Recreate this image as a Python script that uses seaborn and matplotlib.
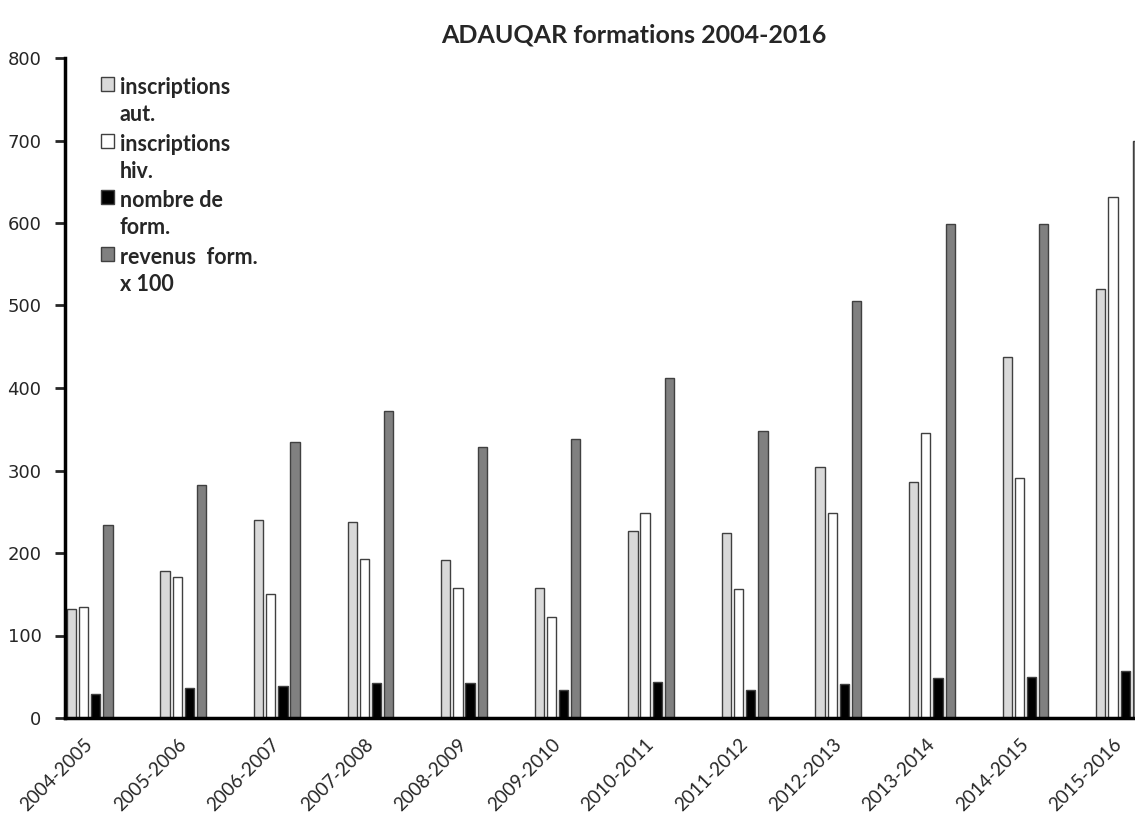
import numpy as np
import pandas as pd
import matplotlib
matplotlib.use("Agg")
import matplotlib.pyplot as plt
import seaborn as sns

# data
saisons = ["2004-2005", "2005-2006", "2006-2007", "2007-2008", "2008-2009", "2009-2010",
           "2010-2011", "2011-2012", "2012-2013", "2013-2014", "2014-2015", "2015-2016"]
inscr_aut = [132, 178, 240, 237, 191, 157, 227, 224, 304, 286, 437, 520]
inscr_hiv = [134, 171, 150, 193, 157, 122, 248, 156, 249, 345, 291, 631]
nb_form = [29, 36, 39, 42, 42, 34, 44, 34, 41, 48, 50, 57]
revenus = [234, 282, 335, 372, 329, 338, 412, 348, 506, 599, 599, 699]

series = ["inscriptions\naut.", "inscriptions\nhiv.", "nombre de\nform.", "revenus  form.\nx 100"]
couleurs = ["#d9d9d9", "#ffffff", "#000000", "#808080"]

df = pd.DataFrame({"saison": saisons * 4,
                   "serie": np.repeat(series, len(saisons)),
                   "valeur": inscr_aut + inscr_hiv + nb_form + revenus})

sns.set_style("white")
plt.rcParams["font.family"] = ["Lato", "DejaVu Sans"]

fig = plt.figure(figsize=(11.35, 8.19), dpi=100)
ax = fig.add_axes([65 / 1135, 1 - 718 / 819, 1 - 65 / 1135, (718 - 58) / 819])

sns.barplot(data=df, x="saison", y="valeur", hue="serie", hue_order=series,
            palette=couleurs, width=0.52, gap=0.24, edgecolor="#404040",
            linewidth=1, ax=ax)

ax.set_ylim(0, 800)
ax.set_yticks(range(0, 801, 100))
ax.set_xlim(-0.264, 11.17)
ax.set_xlabel("")
ax.set_ylabel("")

for s in ["top", "right"]:
    ax.spines[s].set_visible(False)
for s in ["left", "bottom"]:
    ax.spines[s].set_linewidth(2.5)
    ax.spines[s].set_color("black")

ax.tick_params(axis="y", direction="out", length=7, width=2, pad=10, left=True)
ax.tick_params(axis="x", length=0, pad=17)
for t in ax.get_yticklabels():
    t.set_fontfamily("DejaVu Sans")
    t.set_fontsize(13)
plt.setp(ax.get_xticklabels(), rotation=45, ha="right", va="center",
         rotation_mode="anchor", fontsize=13.5)

leg = ax.legend(loc="upper left", bbox_to_anchor=(0.016, 1.0), frameon=False,
                prop={"weight": "bold", "size": 15.5}, handlelength=0.6, handleheight=0.6,
                handletextpad=0.25, labelspacing=0.4)
for h in leg.legend_handles:
    h.set_edgecolor("#404040")
for t in leg.get_texts():
    t.set_linespacing(1.35)
# put each swatch next to the first line of its label
for col in leg._legend_handle_box.get_children():
    for item in col.get_children():
        item.align = "top"

fig.text(634 / 1135, 1 - 35 / 819, "ADAUQAR formations 2004-2016", ha="center", va="center",
         fontsize=18, fontweight="bold")

fig.savefig("out.png", dpi=100)
